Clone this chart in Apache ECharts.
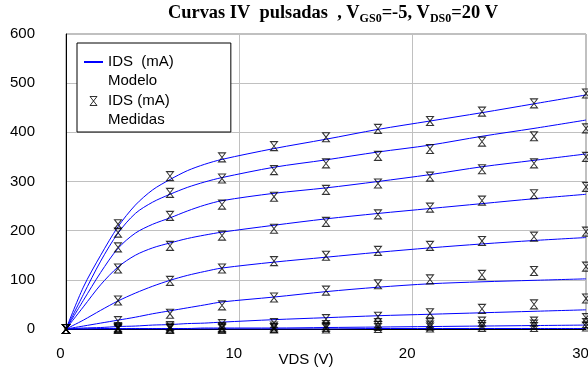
<!DOCTYPE html>
<html>
<head>
<meta charset="utf-8">
<script src="https://cdn.jsdelivr.net/npm/echarts@6/dist/echarts.min.js"></script>
<style>
  html, body { margin: 0; padding: 0; background: #fff; }
  #chart { width: 588px; height: 369px; }
</style>
</head>
<body>
<div id="chart"></div>
<script>
// VDS (V) where the curves are sampled
const vdsMeasured = [0, 3, 6, 9, 12, 15, 18, 21, 24, 27, 30];
const vdsModel = [0, 1, 2, 3, 4, 5, 6, 7, 8, 9, 12, 15, 18, 21, 24, 27, 30];

// IDS (mA) medidas, una fila por curva
const idsMeasured = [
  [0, 213, 311, 349, 372, 390, 407, 423, 442, 459, 479],
  [0, 196, 277, 306, 323, 337, 352, 366, 381, 392, 408],
  [0, 166, 230, 253, 269, 283, 296, 310, 325, 337, 350],
  [0, 123, 169, 190, 204, 218, 233, 247, 261, 274, 289],
  [0, 58, 98, 123, 138, 149, 159, 169, 179, 188, 198],
  [0, 16, 31, 48, 64, 78, 91, 101, 110, 118, 127],
  [0, 4, 6, 10, 12, 20, 25, 32, 41, 50, 62],
  [0, 2, 3, 4, 5, 8, 12, 12, 15, 15, 22],
  [0, 1, 1, 2, 2, 4, 6, 7, 8, 9, 12],
  [0, 0, 0, 0, 1, 1, 2, 3, 4, 4, 5]
];

// IDS (mA) modelo, una fila por curva
const idsModel = [
  [0, 85, 150, 208, 252, 283, 304, 322, 335, 345, 367, 386, 406, 423, 440, 458, 476],
  [0, 70, 138, 195, 235, 258, 274, 288, 299, 308, 329, 344, 360, 374, 392, 408, 425],
  [0, 58, 115, 164, 195, 213, 226, 240, 252, 261, 276, 287, 300, 314, 330, 343, 356],
  [0, 45, 90, 126, 150, 165, 175, 184, 191, 197, 211, 224, 235, 245, 255, 265, 274],
  [0, 18, 38, 57, 73, 87, 99, 109, 117, 124, 136, 146, 156, 165, 173, 180, 186],
  [0, 6, 12, 18, 24, 31, 37, 43, 49, 55, 65, 76, 85, 92, 96, 99, 102],
  [0, 2, 3, 5, 6, 8, 9, 11, 12, 14, 19, 23, 27, 30, 33, 36, 39],
  [0, 0, 1, 1, 1, 1, 1, 1, 2, 2, 2, 3, 4, 5, 6, 7, 8],
  [0, 0, 0, 0, 0, 0, 0, 0, 0, 0, 0, 0, 1, 1, 1, 1, 1]
];

const nameModelo = 'IDS  (mA)\nModelo';
const nameMedidas = 'IDS (mA)\nMedidas';
const hourglass = 'path://M0,0L7,0L0,9L7,9Z';
const sans = 'Liberation Sans';

const chart = echarts.init(document.getElementById('chart'));

const series = [];
idsModel.forEach(row => {
  series.push({
    type: 'line',
    name: nameModelo,
    data: row.map((v, i) => [vdsModel[i], v]),
    symbol: 'none',
    smooth: 0.3,
    lineStyle: { color: '#0000ff', width: 1 },
    itemStyle: { color: '#0000ff' },
    z: 2
  });
});
idsMeasured.forEach(row => {
  series.push({
    type: 'scatter',
    name: nameMedidas,
    data: row.map((v, i) => [vdsMeasured[i], v]),
    symbol: hourglass,
    symbolSize: [7, 9],
    clip: false,
    itemStyle: { color: 'rgba(255,255,255,0)', borderColor: '#000', borderWidth: 1 },
    z: 3
  });
});

chart.setOption({
  animation: false,
  title: {
    left: 168,
    top: 1,
    padding: 0,
    text: '{t|Curvas IV  pulsadas  , V}{s|GS0}{t|=-5, V}{s|DS0}{t|=20 V}',
    textStyle: {
      rich: {
        t: { fontFamily: 'Liberation Serif', fontWeight: 'bold', fontSize: 18.4, lineHeight: 24, color: '#000' },
        s: { fontFamily: 'Liberation Serif', fontWeight: 'bold', fontSize: 12, lineHeight: 14, verticalAlign: 'bottom', color: '#000' }
      }
    }
  },
  legend: {
    orient: 'vertical',
    left: 77,
    top: 43,
    data: [
      { name: nameModelo, itemStyle: { color: 'rgba(0,0,0,0)', borderWidth: 0 } },
      { name: nameMedidas, icon: hourglass, itemStyle: { color: 'rgba(0,0,0,0)', borderColor: '#000', borderWidth: 1 } }
    ],
    // blank first line so the icon sits beside the first text line
    formatter: name => '\n' + name,
    selectedMode: false,
    itemWidth: 19,
    itemHeight: 9,
    itemGap: -18,
    padding: [-9.5, 57, 2.5, 6],
    borderColor: '#000',
    borderWidth: 1,
    backgroundColor: '#fff',
    textStyle: { fontFamily: sans, fontSize: 15, color: '#000', lineHeight: 19 }
  },
  grid: {
    left: 66, right: 2, top: 34, bottom: 40,
    outerBoundsMode: 'none',
    containLabel: false,
    show: true, borderColor: '#808080', borderWidth: 1
  },
  xAxis: {
    type: 'value',
    min: 0, max: 30, interval: 10,
    name: 'VDS (V)',
    nameLocation: 'middle',
    nameGap: 23,
    nameMoveOverlap: false,
    nameTextStyle: { fontFamily: sans, fontSize: 15, color: '#000', padding: [0, 40, 0, 0] },
    axisLine: { lineStyle: { color: '#000', width: 1 } },
    axisTick: { show: false },
    axisLabel: { fontFamily: sans, fontSize: 15, color: '#000', margin: 17, padding: [0, 11, 0, 0] },
    splitLine: { lineStyle: { color: '#c0c0c0', width: 1 } }
  },
  yAxis: {
    type: 'value',
    min: 0, max: 600, interval: 100,
    axisLine: { show: true, lineStyle: { color: '#000', width: 1 } },
    axisTick: { show: false },
    axisLabel: { fontFamily: sans, fontSize: 15, color: '#000', margin: 31 },
    splitLine: { lineStyle: { color: '#c0c0c0', width: 1 } }
  },
  series: series
});
</script>
</body>
</html>
